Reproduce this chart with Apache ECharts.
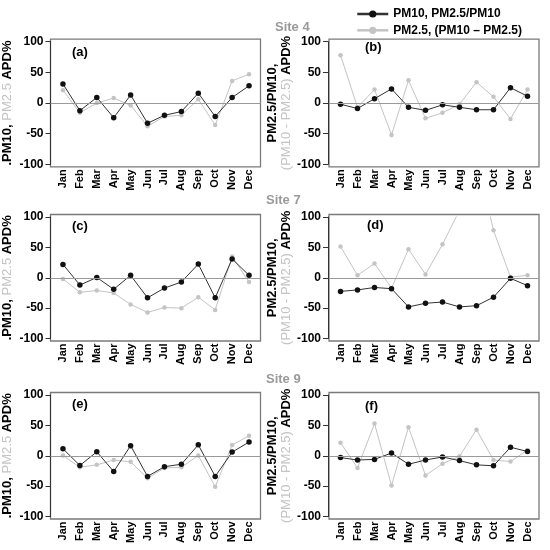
<!DOCTYPE html>
<html><head><meta charset="utf-8">
<script src="https://cdn.jsdelivr.net/npm/echarts@6/dist/echarts.min.js"></script>
<style>html,body{margin:0;padding:0;background:#fff}#c{width:550px;height:550px}</style>
</head><body><div id="c"></div>
<script>
// ---- data ----
const months = ['Jan','Feb','Mar','Apr','May','Jun','Jul','Aug','Sep','Oct','Nov','Dec'];
const yTicks = [-100, -50, 0, 50, 100];
const siteNames = ['Site 4', 'Site 7', 'Site 9'];
const panelLabels = ['(a)', '(b)', '(c)', '(d)', '(e)', '(f)'];
const seriesNames = ['PM10, PM2.5/PM10', 'PM2.5, (PM10 \u2013 PM2.5)'];
// Site 4
const site4_pm10  = [31, -12.5, 9, -24, 13, -33, -20, -14, 16, -22, 9, 28];
const site4_pm25  = [21, -16, 0, 8, -4, -38, -22, -20, 6, -36, 36, 47];
const site4_ratio = [-2, -9, 7, 23, -7, -12, -3, -7, -11, -11, 25, 11];
const site4_diff  = [78, -7, 22, -52, 37, -25, -16, -2, 34, 10, -26, 22];
// Site 7
const site7_pm10  = [22, -12, 0.5, -19, 4, -33, -17, -7, 22.5, -33, 31, 4];
const site7_pm25  = [-2, -24, -21, -25, -44, -57, -49, -50, -32, -53, 35, -7];
const site7_ratio = [-22.5, -20, -16, -18, -48, -42, -40, -48, -46, -32, -1, -13];
const site7_diff  = [51.5, 4, 23.5, -17, 47, 5.5, 55, 111, 200, 78, 1, 4];
// Site 9
const site9_pm10  = [11.5, -16, 6.5, -26, 16.5, -34, -18, -14, 18, -34, 6, 22.5];
const site9_pm25  = [0.5, -19, -15, -7, -10, -37, -20, -19, 0.5, -51, 17.5, 33];
const site9_ratio = [-3, -7, -6, 4.5, -14, -7, -2, -8, -15, -16.5, 14, 7];
const site9_diff  = [21.5, -20, 53, -49, 47, -32.5, -13, -1, 43, -7, -9.5, 9.5];

const panelData = [
  [site4_pm10, site4_pm25], [site4_ratio, site4_diff],
  [site7_pm10, site7_pm25], [site7_ratio, site7_diff],
  [site9_pm10, site9_pm25], [site9_ratio, site9_diff]
];

// ---- layout / style ----
const FONT = '"Liberation Sans", Arial, sans-serif';
const colLeft = [53.5, 332];
const dataW = 204;
const rowTop = [41.7, 217, 395];
const rowH = [122.6, 121.5, 121.5];
const padX = 3, padY = 2.5;
const BLACK = '#111';
const GREY = '#c4c4c4';
const labelPos = [[72, 44], [365, 39.5], [72, 218], [367, 217], [72, 396], [365, 398]];
const sitePos = [[275, 19], [266, 192], [266, 371]];

const grids = [], xAxes = [], yAxes = [], series = [], titles = [];

const leftName = '{k|.PM10, }{g|PM2.5}{k| APD%}';
const rightName = '{k|PM2.5/PM10,}\n{g|(PM10 - PM2.5)}{k| APD%}';
const nameRich = {
  k: {color: '#000', fontWeight: 'bold', fontSize: 13, fontFamily: FONT, lineHeight: 14},
  g: {color: GREY, fontWeight: 'normal', fontSize: 13, fontFamily: FONT, lineHeight: 14}
};

for (let i = 0; i < 6; i++) {
  const col = i % 2, row = Math.floor(i / 2);
  const L = colLeft[col], T = rowTop[row], H = rowH[row];
  const ext = 100 * (H + 2 * padY) / H;
  grids.push({left: L, top: T, width: dataW, height: H, show: false});
  grids.push({left: L - padX, top: T - padY, width: dataW + 2 * padX, height: H + 2 * padY,
    show: true, borderColor: '#7a7a7a', borderWidth: 1.3, backgroundColor: 'transparent'});
  const gi = 2 * i;
  xAxes.push({
    gridIndex: gi, type: 'category', data: months, boundaryGap: true,
    axisLine: {show: false}, axisTick: {show: false},
    axisLabel: {rotate: 90, interval: 0, margin: 5, fontSize: 11, fontWeight: 'bold', color: '#000', fontFamily: FONT}
  });
  xAxes.push({gridIndex: gi + 1, type: 'value', min: 0, max: 1, show: false});
  yAxes.push({
    gridIndex: gi, type: 'value', min: yTicks[0], max: yTicks[yTicks.length - 1], interval: 50,
    offset: 4,
    splitLine: {show: false},
    axisLine: {show: true, lineStyle: {color: '#333', width: 1}},
    axisTick: {show: true, length: 5, lineStyle: {color: '#333', width: 1}},
    axisLabel: {margin: 7, fontSize: 12, fontWeight: 'bold', color: '#000', fontFamily: FONT},
    name: col === 0 ? leftName : rightName,
    nameLocation: 'middle', nameRotate: 90,
    nameGap: col === 0 ? 36 : 30,
    nameTextStyle: {rich: nameRich, fontFamily: FONT}
  });
  yAxes.push({gridIndex: gi + 1, type: 'value', min: -ext, max: ext, show: false});
  series.push({
    type: 'line', xAxisIndex: gi + 1, yAxisIndex: gi + 1, data: [], silent: true,
    markLine: {silent: true, symbol: ['none', 'none'], label: {show: false},
      lineStyle: {color: '#9a9a9a', width: 1, type: 'solid'}, data: [{yAxis: 0}]}
  });
  series.push({
    name: seriesNames[1], type: 'line', xAxisIndex: gi, yAxisIndex: gi,
    data: panelData[i][1], symbol: 'circle', symbolSize: 4.5,
    itemStyle: {color: GREY}, lineStyle: {color: GREY, width: 1}, z: 3
  });
  series.push({
    name: seriesNames[0], type: 'line', xAxisIndex: gi, yAxisIndex: gi,
    data: panelData[i][0], symbol: 'circle', symbolSize: 5.5,
    itemStyle: {color: BLACK}, lineStyle: {color: '#333', width: 1}, z: 4
  });
  titles.push({text: panelLabels[i], left: labelPos[i][0], top: labelPos[i][1], padding: 0,
    textStyle: {fontSize: 13, fontWeight: 'bold', color: '#000', fontFamily: FONT, lineHeight: 16}});
}
for (let s = 0; s < 3; s++) {
  titles.push({text: siteNames[s], left: sitePos[s][0], top: sitePos[s][1], padding: 0,
    textStyle: {fontSize: 13, fontWeight: 'bold', color: '#9a9a9a', fontFamily: FONT, lineHeight: 16}});
}

const chart = echarts.init(document.getElementById('c'), null, {renderer: 'canvas'});
chart.setOption({
  animation: false,
  backgroundColor: '#fff',
  title: titles,
  legend: {
    data: seriesNames, orient: 'vertical', left: 356, top: 8, padding: 0,
    itemWidth: 31, itemHeight: 9, itemGap: 4.3,
    lineStyle: {width: 2.5},
    textStyle: {fontSize: 12, fontWeight: 'bold', color: '#000', fontFamily: FONT}
  },
  grid: grids, xAxis: xAxes, yAxis: yAxes, series: series
});
</script></body></html>
